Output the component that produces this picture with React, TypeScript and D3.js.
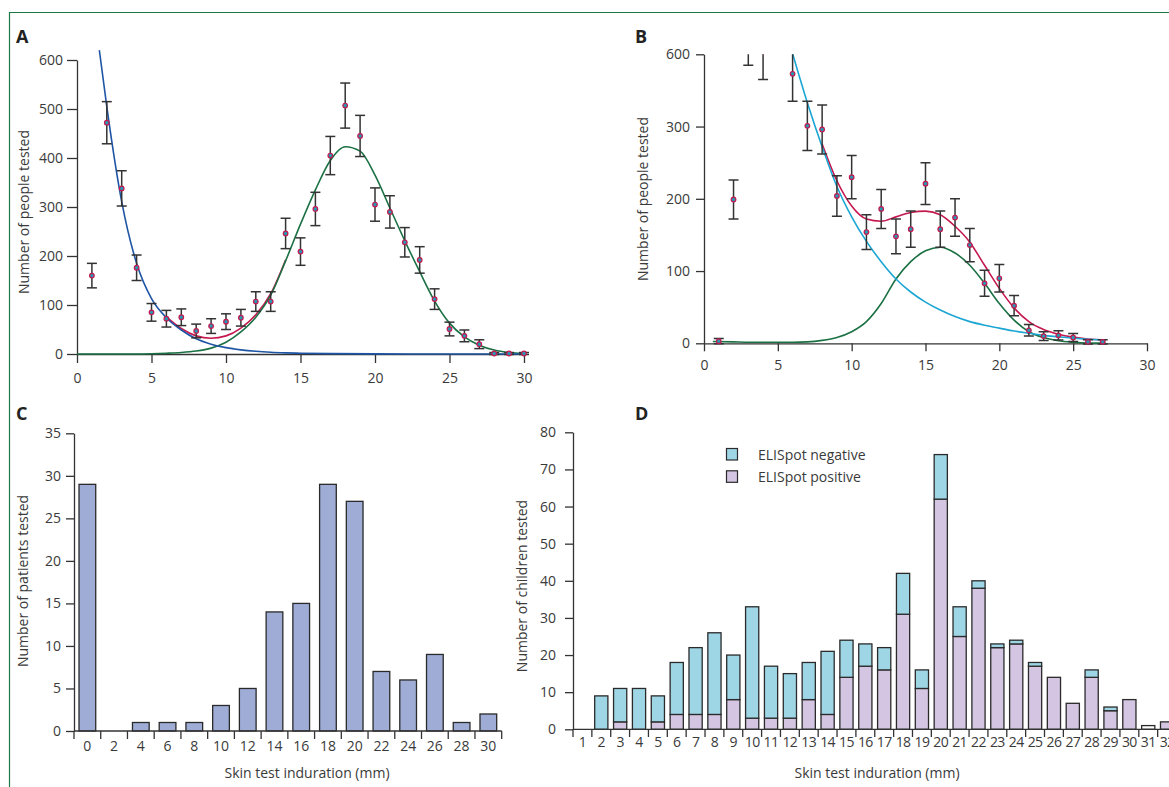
import { useEffect, useRef } from "react";
import * as d3 from "d3";

// panel A: people tested, by skin test induration (mm)
const aX = [1, 2, 3, 4, 5, 6, 7, 8, 9, 10, 11, 12, 13, 14, 15, 16, 17, 18, 19, 20, 21, 22, 23, 24, 25, 26, 27, 28, 29, 30];
const aCount = [160, 472, 338, 176, 85, 72, 75, 47, 57, 66, 74, 107, 107, 246, 209, 296, 405, 507, 445, 305, 290, 228, 192, 112, 51, 37, 20, 1, 1, 1];
const aErr = [25, 43, 36, 26, 18, 17, 17, 14, 15, 16, 17, 20, 20, 31, 28, 34, 39, 46, 42, 34, 33, 30, 27, 21, 14, 12, 9, 2, 2, 2];
// fitted components
const aBlueX = [1.5, 2, 3, 4, 5, 6, 7, 8, 9, 10, 11, 12, 13, 14, 15, 17, 20, 25, 30];
const aBlueY = [620, 505, 311, 185, 113, 74, 49, 31, 20, 13, 8.5, 5.5, 3.5, 2.3, 1.5, 0.7, 0.2, 0, 0];
const aGreenX = [0, 4, 5, 6, 7, 8, 9, 10, 11, 12, 13, 14, 15, 16, 17, 18, 19, 20, 21, 22, 23, 24, 25, 26, 27, 28, 29, 30];
const aGreenY = [0, 0, 0.5, 1.5, 3, 6, 12, 24, 45, 75, 120, 190, 265, 335, 395, 423, 414, 365, 298, 231, 168, 108, 63, 35, 18, 8, 3, 1];
const aRedX = [6, 7, 8, 9, 10, 11, 12, 13, 14];
const aRedY = [76, 52, 37, 32, 37, 53, 80, 123, 192];

// panel B
const bX = [1, 2, 3, 4, 5, 6, 7, 8, 9, 10, 11, 12, 13, 14, 15, 16, 17, 18, 19, 20, 21, 22, 23, 24, 25, 26, 27];
const bCount = [3, 199, 425, 404, 480, 373, 301, 296, 204, 230, 154, 186, 148, 158, 221, 158, 174, 136, 83, 90, 52, 18, 10, 11, 8, 2, 2];
const bErr = [3.5, 27, 40, 39, 43, 38, 34, 34, 28, 30, 24, 27, 24, 25, 29, 25, 26, 23, 18, 19, 14, 8, 6, 6.5, 5.5, 3, 3];
const bCyanX = [6, 7, 8, 9, 10, 11, 12, 13, 14, 15, 16, 17, 18, 19, 20, 21, 22, 23, 24, 25, 26, 27.2];
const bCyanY = [401, 333, 272, 217, 175, 141, 113, 89, 71, 57, 46, 37, 30, 25, 21, 17, 14, 11, 9, 7, 5.5, 4.5];
const bGreenX = [0.6, 2, 3, 4, 5, 6, 7, 8, 9, 10, 11, 12, 13, 14, 15, 16, 17, 18, 19, 20, 21, 22, 23, 24, 25, 26, 27.2];
const bGreenY = [2.5, 2, 1.5, 1.5, 1.5, 1.5, 2, 4, 8, 16, 30, 55, 89, 113, 128, 133, 125, 108, 83, 55, 32, 16, 8, 3.5, 1.5, 0.5, 0.2];
const bRedX = [8, 9, 10, 11, 12, 13, 14, 15, 16, 17, 18, 19, 20, 21, 22, 23, 24, 25, 26, 27.2];
const bRedY = [276, 225, 190, 172, 169, 175, 181, 183, 178, 162, 140, 108, 76, 49, 30, 19, 12.5, 8.5, 6, 4.7];
const bTicks = [0, 100, 200, 300, 400];
const bTickLabels = ["0", "100", "200", "300", "600"];

// panel C
const cCats = ["0", "2", "4", "6", "8", "10", "12", "14", "16", "18", "20", "22", "24", "26", "28", "30"];
const cCount = [29, 0, 1, 1, 1, 3, 5, 14, 15, 29, 27, 7, 6, 9, 1, 2];

// panel D
const dCats = ["1", "2", "3", "4", "5", "6", "7", "8", "9", "10", "11", "12", "13", "14", "15", "16", "17", "18", "19", "20", "21", "22", "23", "24", "25", "26", "27", "28", "29", "30", "31", "32"];
const dPositive = [0, 0, 2, 0, 2, 4, 4, 4, 8, 3, 3, 3, 8, 4, 14, 17, 16, 31, 11, 62, 25, 38, 22, 23, 17, 14, 7, 14, 5, 8, 0, 2];
const dNegative = [0, 9, 9, 11, 7, 14, 18, 22, 12, 30, 14, 12, 10, 17, 10, 6, 6, 11, 5, 12, 8, 2, 1, 1, 1, 0, 0, 2, 1, 0, 0, 0];
const dUnknown = [0, 0, 0, 0, 0, 0, 0, 0, 0, 0, 0, 0, 0, 0, 0, 0, 0, 0, 0, 0, 0, 0, 0, 0, 0, 0, 0, 0, 0, 0, 1, 0];

const W = 1169;
const H = 787;
const FONT = "'Open Sans', 'Noto Sans', sans-serif";
const INK = "#333";
const TEXT = "#3a3a3a";
const FRAME = "#1d7a47";
const BLUE_A = "#1f55a5";
const CYAN_B = "#1ba6d3";
const GREEN = "#1b7144";
const RED = "#c4184f";
const DOT = "#2996b3";
const C_FILL = "#9eacd6";
const NEG_FILL = "#9fd6e6";
const POS_FILL = "#d4c6e2";

const tidy = (g: any) => {
  g.attr("font-family", FONT).attr("font-size", 14);
  g.selectAll("path.domain, .tick line").attr("stroke", INK).attr("stroke-width", 1.3);
  g.selectAll(".tick text").attr("fill", TEXT);
};

const App = () => {
  const ref = useRef<SVGSVGElement>(null);

  useEffect(() => {
    const svg = d3.select(ref.current);
    svg.selectAll("*").remove();

    // frame
    svg.append("line").attr("x1", 9).attr("x2", W).attr("y1", 12.5).attr("y2", 12.5).attr("stroke", FRAME).attr("stroke-width", 1.2);
    svg.append("line").attr("x1", 9.5).attr("x2", 9.5).attr("y1", 12).attr("y2", H).attr("stroke", FRAME).attr("stroke-width", 1.2);

    const letter = (t: string, x: number, y: number) =>
      svg.append("text").attr("x", x).attr("y", y).attr("font-family", FONT).attr("font-size", 18)
        .attr("font-weight", 700).attr("fill", "#222").text(t);
    const yTitle = (t: string, x: number, y: number) =>
      svg.append("text").attr("transform", `translate(${x},${y}) rotate(-90)`).attr("text-anchor", "middle")
        .attr("font-family", FONT).attr("font-size", 14).attr("fill", TEXT).text(t);
    const xTitle = (t: string, x: number, y: number) =>
      svg.append("text").attr("x", x).attr("y", y).attr("text-anchor", "middle")
        .attr("font-family", FONT).attr("font-size", 14).attr("fill", TEXT).text(t);

    const errorBars = (g: any, xs: number[], vals: number[], errs: number[], x: any, y: any) => {
      const eb = g.append("g").attr("stroke", INK).attr("stroke-width", 1.5);
      xs.forEach((d, i) => {
        const lo = y(vals[i] - errs[i]);
        const hi = y(vals[i] + errs[i]);
        eb.append("line").attr("x1", x(d)).attr("x2", x(d)).attr("y1", lo).attr("y2", hi);
        eb.append("line").attr("x1", x(d) - 5).attr("x2", x(d) + 5).attr("y1", lo).attr("y2", lo);
        eb.append("line").attr("x1", x(d) - 5).attr("x2", x(d) + 5).attr("y1", hi).attr("y2", hi);
      });
      g.append("g").selectAll("circle").data(xs).join("circle")
        .attr("cx", (d: number) => x(d)).attr("cy", (_: number, i: number) => y(vals[i]))
        .attr("r", 2.3).attr("fill", DOT).attr("stroke", RED).attr("stroke-width", 1.2);
    };

    const curve = (g: any, xs: number[], ys: number[], x: any, y: any, color: string) => {
      const line = d3.line<number>().x(d => x(d)).y((_, i) => y(ys[i])).curve(d3.curveMonotoneX);
      g.append("path").datum(xs).attr("fill", "none").attr("stroke", color).attr("stroke-width", 1.6).attr("d", line);
    };

    // ---------- A ----------
    const xA = d3.scaleLinear().domain([0, 30]).range([77, 524]);
    const yA = d3.scaleLinear().domain([0, 600]).range([354, 60]);
    letter("A", 16, 43);
    svg.append("g").attr("transform", "translate(0,354)")
      .call(d3.axisBottom(xA).tickValues(d3.range(0, 31, 5)).tickSize(9).tickPadding(10).tickSizeOuter(0)).call(tidy);
    svg.append("g").attr("transform", "translate(77,0)")
      .call(d3.axisLeft(yA).tickValues(d3.range(0, 601, 100)).tickSize(10).tickPadding(4).tickSizeOuter(0)).call(tidy);
    yTitle("Number of people tested", 29, 212);
    const gA = svg.append("g");
    curve(gA, aRedX, aRedY, xA, yA, RED);
    curve(gA, aGreenX, aGreenY, xA, yA, GREEN);
    curve(gA, aBlueX, aBlueY, xA, yA, BLUE_A);
    errorBars(gA, aX, aCount, aErr, xA, yA);

    // ---------- B ----------
    const xB = d3.scaleLinear().domain([0, 30]).range([704, 1147]);
    const yB = d3.scaleLinear().domain([0, 400]).range([343.3, 54.3]);
    letter("B", 635, 43);
    svg.append("g").attr("transform", "translate(0,343.3)")
      .call(d3.axisBottom(xB).tickValues(d3.range(0, 31, 5)).tickSize(8).tickPadding(9).tickSizeOuter(0)).call(tidy);
    svg.append("g").attr("transform", "translate(704,0)")
      .call(d3.axisLeft(yB).tickValues(bTicks).tickFormat((_, i) => bTickLabels[i]).tickSize(8).tickPadding(6).tickSizeOuter(0)).call(tidy);
    yTitle("Number of people tested", 648, 199);
    svg.append("clipPath").attr("id", "clipB").append("rect")
      .attr("x", 690).attr("y", 54.3).attr("width", 470).attr("height", 310);
    const gB = svg.append("g").attr("clip-path", "url(#clipB)");
    curve(gB, bRedX, bRedY, xB, yB, RED);
    curve(gB, bGreenX, bGreenY, xB, yB, GREEN);
    curve(gB, bCyanX, bCyanY, xB, yB, CYAN_B);
    errorBars(gB, bX, bCount, bErr, xB, yB);

    // ---------- C ----------
    const xC = d3.scaleBand().domain(cCats).range([74, 501.7]).paddingInner(0.375).paddingOuter(0.1875);
    const yC = d3.scaleLinear().domain([0, 35]).range([731, 433.3]);
    letter("C", 16, 420);
    svg.append("g").attr("transform", "translate(74,0)")
      .call(d3.axisLeft(yC).tickValues(d3.range(0, 36, 5)).tickSize(8).tickPadding(5).tickSizeOuter(0)).call(tidy);
    svg.append("g").selectAll("rect").data(cCats).join("rect")
      .attr("x", d => xC(d)!).attr("width", xC.bandwidth())
      .attr("y", (_, i) => yC(cCount[i])).attr("height", (_, i) => yC(0) - yC(cCount[i]))
      .attr("fill", C_FILL).attr("stroke", "#2a2a2a").attr("stroke-width", 1.3)
      .attr("display", (_, i) => (cCount[i] > 0 ? null : "none"));
    const axC = svg.append("g").attr("stroke", INK).attr("stroke-width", 1.3);
    axC.append("line").attr("x1", 74).attr("x2", 501.7).attr("y1", 731).attr("y2", 731);
    [...cCats, null].forEach((d, i) => {
      const bx = 74 + i * xC.step();
      axC.append("line").attr("x1", bx).attr("x2", bx).attr("y1", 731).attr("y2", 739);
    });
    svg.append("g").selectAll("text").data(cCats).join("text")
      .attr("x", d => xC(d)! + xC.bandwidth() / 2).attr("y", 751).attr("text-anchor", "middle")
      .attr("font-family", FONT).attr("font-size", 14).attr("fill", TEXT).text(d => d);
    yTitle("Number of patients tested", 28, 581);
    xTitle("Skin test induration (mm)", 307, 778);

    // ---------- D ----------
    const dStep = 18.86;
    const xD = d3.scaleBand().domain(dCats).range([573, 573 + dCats.length * dStep]).paddingInner(0.3).paddingOuter(0.15);
    const yD = d3.scaleLinear().domain([0, 80]).range([729.3, 432.3]);
    letter("D", 635, 420);
    svg.append("g").attr("transform", "translate(573,0)")
      .call(d3.axisLeft(yD).tickValues(d3.range(0, 81, 10)).tickSize(8).tickPadding(9).tickSizeOuter(0)).call(tidy);
    const table = dCats.map((c, i) => ({ cat: c, positive: dPositive[i], negative: dNegative[i], unknown: dUnknown[i] }));
    const stack = d3.stack<any>().keys(["positive", "negative", "unknown"])(table);
    const fills: Record<string, string> = { positive: POS_FILL, negative: NEG_FILL, unknown: "#fff" };
    const gD = svg.append("g");
    stack.forEach(layer => {
      gD.append("g").selectAll("rect").data(layer.filter(s => s[1] > s[0])).join("rect")
        .attr("x", s => xD(s.data.cat)!).attr("width", xD.bandwidth())
        .attr("y", s => yD(s[1])).attr("height", s => yD(s[0]) - yD(s[1]))
        .attr("fill", fills[layer.key]).attr("stroke", "#2a2a2a").attr("stroke-width", 1.3);
    });
    const axD = svg.append("g").attr("stroke", INK).attr("stroke-width", 1.3);
    axD.append("line").attr("x1", 573).attr("x2", W).attr("y1", 729.3).attr("y2", 729.3);
    [...dCats, null].forEach((d, i) => {
      const bx = 573 + i * xD.step();
      axD.append("line").attr("x1", bx).attr("x2", bx).attr("y1", 729.3).attr("y2", 737);
    });
    svg.append("g").selectAll("text").data(dCats).join("text")
      .attr("x", d => xD(d)! + xD.bandwidth() / 2).attr("y", 747).attr("text-anchor", "middle")
      .attr("font-family", FONT).attr("font-size", 14).attr("letter-spacing", -0.6).attr("fill", TEXT).text(d => d);
    yTitle("Number of children tested", 527, 586);
    xTitle("Skin test induration (mm)", 877, 778);

    // legend
    const legend = [
      { label: "ELISpot negative", fill: NEG_FILL },
      { label: "ELISpot positive", fill: POS_FILL },
    ];
    legend.forEach((l, i) => {
      svg.append("rect").attr("x", 726.5).attr("y", 448.5 + i * 22.3).attr("width", 11).attr("height", 11.5)
        .attr("fill", l.fill).attr("stroke", "#2a2a2a").attr("stroke-width", 1.2);
      svg.append("text").attr("x", 758).attr("y", 459.5 + i * 22.3).attr("font-family", FONT)
        .attr("font-size", 14).attr("fill", TEXT).text(l.label);
    });
  }, []);

  return (
    <svg
      ref={ref}
      width={W}
      height={H}
      style={{ position: "absolute", left: 0, top: 0, background: "#fff", display: "block" }}
    />
  );
};

export default App;
